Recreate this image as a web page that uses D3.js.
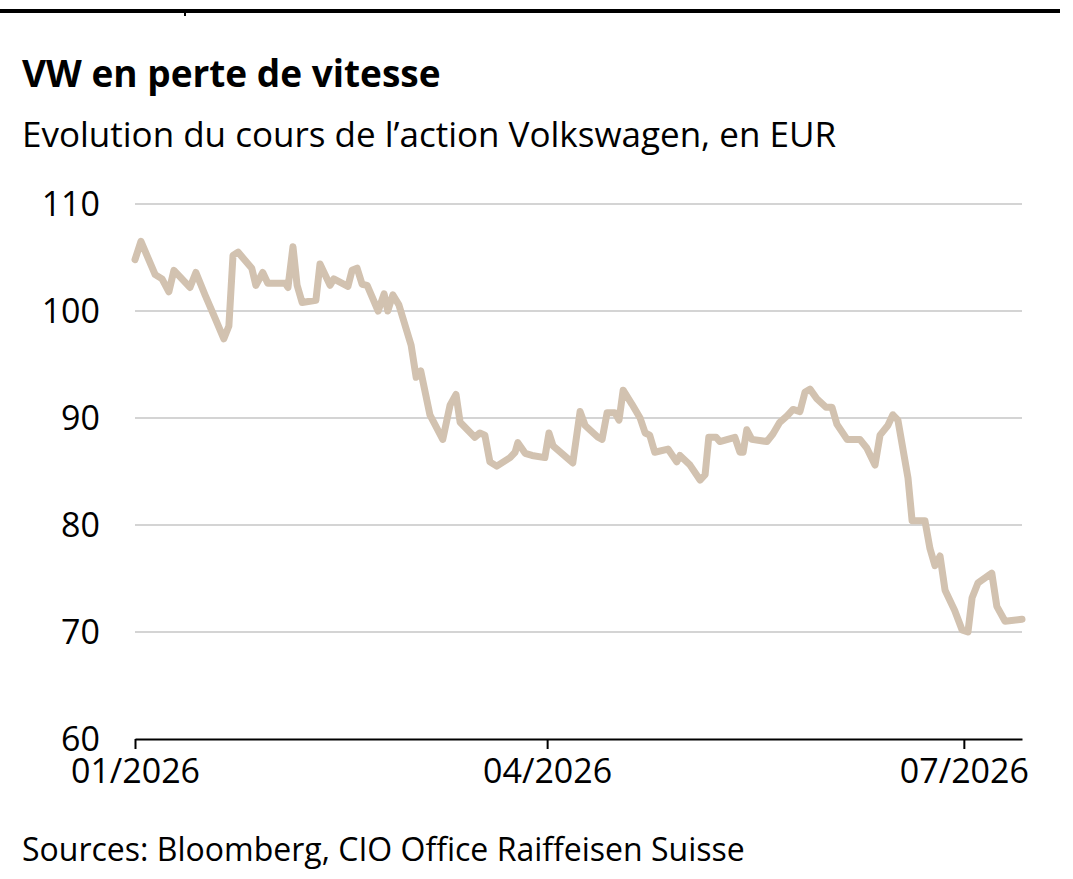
<!DOCTYPE html>
<html><head><meta charset="utf-8">
<script src="https://cdn.jsdelivr.net/npm/d3@7"></script>
<style>body{margin:0;background:#fff}svg{font-family:"Open Sans",sans-serif}</style>
</head><body><div id="container"></div>
<script>
const w = 1073, h = 879;
const plotLeft = 135, plotRight = 1022, plotTop = 204, plotBottom = 739;

// days since 1 Jan 2026
const days = [0,1.3,4.4,5.9,7.4,8.5,12,13.3,15.3,17.5,19.4,20.5,21.4,22.5,25.5,26.4,27.9,29,32.8,33.4,34.5,35.4,36.5,39.5,40.4,42.6,43.4,46.5,47.4,48.5,49.6,50.7,53.1,54.4,55.2,56.3,57.6,60.3,61.4,62.4,64.4,67.2,68.8,70.1,71,74.2,75.3,76.4,77.5,79,81.9,83,83.6,85.2,86.7,89.5,90.4,91.3,95.6,97.2,98.3,101.1,102,103.1,104.8,105.7,106.6,108.5,110.3,111.4,112.4,113.5,116.4,118.3,119,121.2,123.4,124.5,125.3,126.9,127.7,131,132.1,132.8,133.6,134.7,138,139.3,140.8,142.4,143.7,145.2,146.3,147.4,148.9,150.9,152.2,153.3,155.5,158.3,159.8,161.6,162.7,164.4,165.5,166.6,168.8,169.7,172.5,173.6,174.7,175.8,176.9,179,180.6,181.9,182.8,184.1,187.1,188.2,190,193.7];
const prices = [104.8,106.5,103.4,103,101.8,103.8,102.2,103.6,101.5,99.3,97.4,98.6,105.2,105.5,104,102.4,103.6,102.6,102.6,102.2,106,102.4,100.8,101,104.4,102.4,103,102.3,103.8,104,102.5,102.4,100,101.6,100,101.5,100.6,96.8,93.8,94.4,90.3,88,91.2,92.2,89.6,88.2,88.6,88.4,85.9,85.5,86.3,86.8,87.7,86.7,86.5,86.3,88.6,87.4,85.8,90.6,89.3,88.2,88,90.5,90.5,89.8,92.6,91.3,90,88.6,88.4,86.8,87.1,85.9,86.5,85.6,84.2,84.7,88.2,88.2,87.8,88.2,86.8,86.8,88.9,88,87.8,88.5,89.6,90.2,90.8,90.6,92.4,92.7,91.8,91,91,89.4,88,88,87.2,85.6,88.4,89.3,90.3,89.8,84.4,80.4,80.4,77.8,76.2,77.1,73.9,72,70.2,70,73.2,74.6,75.5,72.4,71,71.2];
const yTicks = [60, 70, 80, 90, 100, 110];
const xTickDates = ['2026-01-01', '2026-04-01', '2026-07-01'];
const xTickLabels = ['01/2026', '04/2026', '07/2026'];

const base = Date.UTC(2026, 0, 1);
const data = days.map((d, i) => ({ date: new Date(base + d * 864e5), v: prices[i] }));

const svg = d3.select('#container').append('svg').attr('width', w).attr('height', h);

svg.append('rect').attr('x', 0).attr('y', 9).attr('width', 1060).attr('height', 4).attr('fill', '#000');
svg.append('rect').attr('x', 184).attr('y', 9).attr('width', 2).attr('height', 7).attr('fill', '#000');

svg.append('text').text('VW en perte de vitesse')
  .attr('x', 22).attr('y', 87).attr('font-size', 37).attr('font-weight', 'bold');
svg.append('text').text('Evolution du cours de l\u2019action Volkswagen, en EUR')
  .attr('x', 22).attr('y', 147).attr('font-size', 35);

const x = d3.scaleUtc().domain([new Date(base), new Date(base + 193.7 * 864e5)]).range([plotLeft, plotRight]);
const y = d3.scaleLinear().domain([60, 110]).range([plotBottom, plotTop]);

svg.append('g').selectAll('line').data(yTicks.filter(t => t > 60)).enter().append('line')
  .attr('x1', plotLeft).attr('x2', plotRight)
  .attr('y1', d => y(d)).attr('y2', d => y(d))
  .attr('stroke', '#c6c6c6').attr('stroke-width', 1.5);

svg.append('g').selectAll('text').data(yTicks).enter().append('text')
  .text(d => d).attr('x', 100).attr('y', d => y(d) + 12)
  .attr('text-anchor', 'end').attr('font-size', 34);

const xAxis = d3.axisBottom(x)
  .tickValues(xTickDates.map(s => new Date(s + 'T00:00:00Z')))
  .tickFormat((d, i) => xTickLabels[i]).tickSize(10).tickSizeOuter(0);
const gx = svg.append('g').attr('transform', 'translate(0,' + plotBottom + ')').call(xAxis);
gx.select('.domain').attr('stroke', '#000').attr('stroke-width', 2);
gx.selectAll('.tick line').attr('stroke', '#000').attr('stroke-width', 2);
gx.selectAll('.tick text').attr('font-size', 34).attr('fill', '#000')
  .attr('font-family', '"Open Sans",sans-serif').attr('dy', '0.95em').attr('y', 12);

svg.append('path').datum(data)
  .attr('d', d3.line().x(d => x(d.date)).y(d => y(d.v)))
  .attr('fill', 'none').attr('stroke', '#d2c2b0').attr('stroke-width', 7)
  .attr('stroke-linejoin', 'round').attr('stroke-linecap', 'round');

svg.append('text').text('Sources: Bloomberg, CIO Office Raiffeisen Suisse')
  .attr('x', 22).attr('y', 861).attr('font-size', 32);
</script></body></html>
